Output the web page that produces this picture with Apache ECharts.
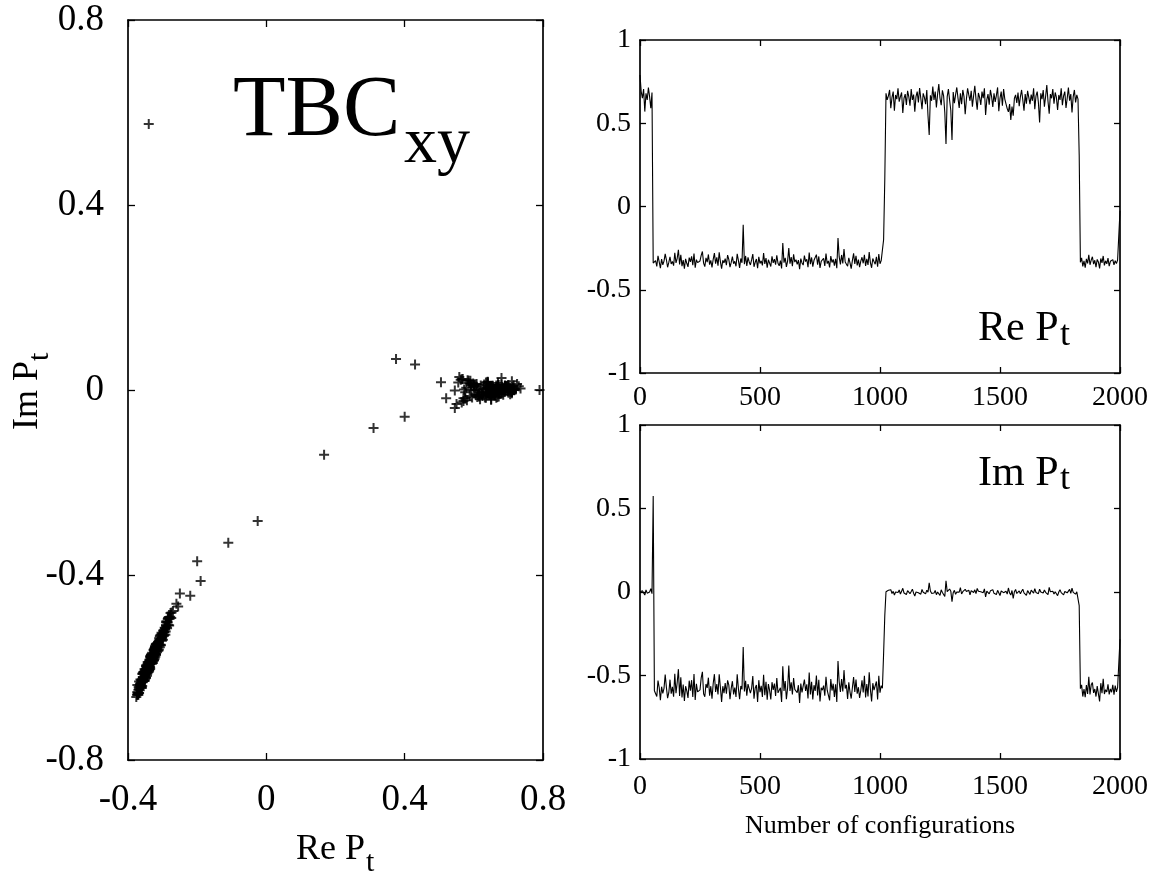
<!DOCTYPE html>
<html>
<head>
<meta charset="utf-8">
<script src="https://cdn.jsdelivr.net/npm/echarts@6/dist/echarts.min.js"></script>
<style>
html,body{margin:0;padding:0;background:#fff;}
#chart{width:1167px;height:874px;}
</style>
</head>
<body>
<div id="chart"></div>
<script>
// ---------------- DATA ----------------
// One sample every 5 configurations (0, 5, 10, ..., 2000)
const configStep = 5;

const reValues = [
  0.790,
  0.690, 0.650, 0.705, 0.570, 0.680, 0.640, 0.715, 0.660, 0.590, 0.685,
  -0.340,
  -0.342, -0.325, -0.360, -0.296, -0.333, -0.370, -0.316, -0.350, -0.328, -0.285,
  -0.320, -0.365, -0.336, -0.303, -0.345, -0.330, -0.355, -0.278, -0.339, -0.311,
  -0.260, -0.348, -0.290, -0.358, -0.322, -0.373, -0.314, -0.341, -0.363, -0.307,
  -0.332, -0.300, -0.352, -0.282, -0.368, -0.319, -0.337, -0.346, -0.327, -0.294,
  -0.270, -0.340, -0.361, -0.309, -0.334, -0.288, -0.349, -0.324, -0.366, -0.317,
  -0.280, -0.343, -0.305, -0.356, -0.275, -0.331, -0.374, -0.323, -0.339, -0.313,
  -0.353, -0.292, -0.318, -0.364, -0.336, -0.301, -0.344, -0.329, -0.359, -0.284,
  -0.324, -0.369, -0.312, -0.338, -0.110, -0.347, -0.297, -0.357, -0.306, -0.333,
  -0.351, -0.321, -0.286, -0.362, -0.335, -0.315, -0.371, -0.302, -0.342, -0.326,
  -0.354, -0.280, -0.345, -0.310, -0.367, -0.320, -0.332, -0.360, -0.299, -0.338,
  -0.316, -0.349, -0.293, -0.341, -0.356, -0.325, -0.372, -0.220, -0.337, -0.308,
  -0.363, -0.328, -0.250, -0.344, -0.304, -0.358, -0.287, -0.334, -0.319, -0.348,
  -0.322, -0.376, -0.313, -0.339, -0.352, -0.295, -0.331, -0.317, -0.365, -0.277,
  -0.346, -0.306, -0.361, -0.323, -0.335, -0.289, -0.350, -0.300, -0.369, -0.330,
  -0.340, -0.311, -0.357, -0.283, -0.343, -0.327, -0.366, -0.298, -0.336, -0.318,
  -0.355, -0.314, -0.370, -0.190, -0.303, -0.348, -0.291, -0.342, -0.255, -0.333,
  -0.321, -0.359, -0.309, -0.338, -0.373, -0.324, -0.281, -0.345, -0.296, -0.354,
  -0.319, -0.364, -0.328, -0.305, -0.341, -0.290, -0.357, -0.315, -0.351, -0.274,
  -0.337, -0.368, -0.312, -0.331, -0.347, -0.302, -0.362, -0.286, -0.344, -0.325,
  -0.328, -0.200,
  0.167,
  0.680, 0.640, 0.665, 0.700, 0.590, 0.655, 0.690, 0.575, 0.670, 0.645,
  0.710, 0.630, 0.660, 0.685, 0.562, 0.650, 0.675, 0.610, 0.695, 0.660,
  0.605, 0.705, 0.640, 0.672, 0.570, 0.660, 0.690, 0.625, 0.712, 0.650,
  0.585, 0.680, 0.655, 0.615, 0.700, 0.545, 0.430, 0.668, 0.635, 0.720,
  0.640, 0.690, 0.595, 0.675, 0.735, 0.650, 0.608, 0.698, 0.665, 0.565,
  0.375, 0.660, 0.705, 0.640, 0.578, 0.400, 0.688, 0.620, 0.672, 0.715,
  0.650, 0.592, 0.680, 0.615, 0.700, 0.660, 0.555, 0.645, 0.710, 0.670,
  0.635, 0.695, 0.600, 0.665, 0.725, 0.645, 0.582, 0.682, 0.655, 0.610,
  0.690, 0.650, 0.710, 0.550, 0.640, 0.675, 0.612, 0.700, 0.660, 0.598,
  0.680, 0.628, 0.668, 0.715, 0.572, 0.650, 0.690, 0.605, 0.705, 0.645,
  0.640, 0.588, 0.568, 0.615, 0.520, 0.600, 0.545, 0.650, 0.670, 0.622,
  0.685, 0.602, 0.660, 0.700, 0.640, 0.575, 0.675, 0.618, 0.695, 0.655,
  0.615, 0.672, 0.635, 0.710, 0.585, 0.665, 0.690, 0.625, 0.505, 0.680,
  0.645, 0.700, 0.600, 0.660, 0.730, 0.632, 0.558, 0.675, 0.650, 0.705,
  0.618, 0.685, 0.655, 0.580, 0.670, 0.640, 0.710, 0.608, 0.665, 0.690,
  0.592, 0.650, 0.715, 0.635, 0.675, 0.565, 0.660, 0.700, 0.625, 0.670,
  0.645,
  0.310,
  -0.335, -0.308, -0.360, -0.327, -0.368, -0.315, -0.342, -0.290, -0.350, -0.322,
  -0.302, -0.346, -0.323, -0.364, -0.318, -0.333, -0.372, -0.312, -0.339, -0.297,
  -0.354, -0.326, -0.344, -0.310, -0.358, -0.329, -0.336, -0.319, -0.351, -0.325,
  -0.343, -0.322, -0.332,
  -0.025
];

const imValues = [
  0.000,
  -0.004, 0.008, 0.001, -0.018, 0.012, -0.007, 0.003, 0.000, 0.020, -0.010,
  0.575,
  -0.591, -0.584, -0.626, -0.530, -0.572, -0.648, -0.567, -0.607, -0.577, -0.495,
  -0.571, -0.636, -0.603, -0.525, -0.609, -0.568, -0.627, -0.490, -0.606, -0.542,
  -0.462, -0.622, -0.510, -0.632, -0.554, -0.653, -0.564, -0.592, -0.634, -0.531,
  -0.591, -0.528, -0.629, -0.491, -0.647, -0.550, -0.598, -0.602, -0.586, -0.514,
  -0.478, -0.609, -0.627, -0.551, -0.574, -0.513, -0.621, -0.564, -0.639, -0.548,
  -0.492, -0.599, -0.552, -0.613, -0.493, -0.570, -0.659, -0.564, -0.606, -0.545,
  -0.609, -0.529, -0.556, -0.642, -0.577, -0.534, -0.613, -0.572, -0.628, -0.493,
  -0.578, -0.642, -0.563, -0.583, -0.330, -0.596, -0.532, -0.621, -0.551, -0.578,
  -0.606, -0.577, -0.503, -0.639, -0.575, -0.557, -0.658, -0.528, -0.600, -0.562,
  -0.628, -0.495, -0.618, -0.537, -0.645, -0.551, -0.589, -0.644, -0.540, -0.586,
  -0.548, -0.623, -0.515, -0.604, -0.610, -0.574, -0.659, -0.445, -0.592, -0.533,
  -0.642, -0.575, -0.440, -0.593, -0.541, -0.614, -0.515, -0.583, -0.573, -0.603,
  -0.558, -0.664, -0.548, -0.601, -0.603, -0.524, -0.592, -0.553, -0.638, -0.482,
  -0.614, -0.538, -0.644, -0.558, -0.592, -0.500, -0.619, -0.526, -0.655, -0.573,
  -0.588, -0.561, -0.621, -0.508, -0.588, -0.577, -0.649, -0.521, -0.590, -0.549,
  -0.629, -0.552, -0.659, -0.413, -0.539, -0.598, -0.522, -0.596, -0.468, -0.578,
  -0.556, -0.640, -0.541, -0.599, -0.638, -0.572, -0.509, -0.599, -0.524, -0.609,
  -0.570, -0.634, -0.590, -0.529, -0.602, -0.502, -0.631, -0.551, -0.626, -0.481,
  -0.583, -0.655, -0.546, -0.588, -0.595, -0.536, -0.643, -0.501, -0.603, -0.561,
  -0.576, -0.370,
  -0.140,
  0.002, -0.005, 0.010, -0.001, 0.014, -0.009, 0.004, -0.018, 0.000, 0.007,
  -0.003, 0.012, -0.012, 0.005, 0.022, -0.006, 0.001, -0.015, 0.008, -0.002,
  -0.010, 0.003, 0.017, -0.007, -0.024, 0.000, 0.009, -0.004, 0.006, -0.013,
  0.015, -0.002, 0.004, -0.011, 0.011, -0.001, 0.055, 0.006, -0.008, 0.001,
  -0.006, 0.009, -0.016, 0.000, 0.003, -0.020, 0.013, -0.003, 0.007, -0.027,
  0.067, 0.002, -0.009, 0.018, 0.005, -0.058, -0.004, 0.010, -0.014, 0.000,
  0.006, -0.001, 0.026, -0.012, 0.002, -0.007, 0.016, 0.003, -0.005, 0.011,
  -0.017, 0.008, 0.000, -0.003, 0.013, -0.010, 0.021, 0.004, -0.006, 0.001,
  0.009, -0.004, 0.019, -0.030, 0.005, 0.000, -0.011, 0.007, -0.002, 0.014,
  -0.008, 0.003, -0.015, 0.010, 0.001, -0.021, 0.006, 0.012, -0.004, 0.000,
  0.005, -0.013, 0.024, -0.006, -0.018, 0.009, -0.039, 0.002, 0.015, -0.009,
  -0.001, 0.007, -0.011, 0.004, 0.017, -0.005, 0.000, -0.020, 0.008, 0.003,
  -0.014, 0.011, 0.001, -0.007, 0.020, -0.003, 0.006, -0.010, 0.017, 0.000,
  0.004, -0.006, 0.012, -0.002, 0.008, -0.016, 0.028, 0.001, -0.009, 0.005,
  -0.012, 0.002, 0.009, -0.022, 0.000, 0.014, -0.004, 0.007, -0.017, 0.003,
  0.010, -0.005, 0.000, 0.016, -0.008, 0.023, -0.002, 0.005, -0.013, 0.001,
  -0.007,
  -0.082,
  -0.579, -0.556, -0.626, -0.581, -0.630, -0.557, -0.610, -0.508, -0.613, -0.556,
  -0.542, -0.604, -0.581, -0.626, -0.564, -0.573, -0.655, -0.546, -0.606, -0.519,
  -0.611, -0.585, -0.599, -0.553, -0.613, -0.580, -0.600, -0.556, -0.615, -0.561,
  -0.598, -0.572, -0.581,
  -0.283
];

// Axis ticks
const scatterReTicks = [-0.4, 0, 0.4, 0.8];
const scatterImTicks = [-0.8, -0.4, 0, 0.4, 0.8];
const configTicks = [0, 500, 1000, 1500, 2000];
const polyakovTicks = [-1, -0.5, 0, 0.5, 1];

// Texts
const panelTitle = ['TBC', 'xy'];
const reLabel = ['Re P', 't'];
const imLabel = ['Im P', 't'];
const configLabel = 'Number of configurations';

// ---------------- CHART ----------------
const FONT = "'Liberation Serif', 'Times New Roman', Times, serif";
const chart = echarts.init(document.getElementById('chart'), null, {renderer: 'canvas'});

function axis(gridIndex, ticks, position, showLabel, fontSize, margin, tickLen) {
  return {
    type: 'value',
    gridIndex: gridIndex,
    position: position,
    min: ticks[0],
    max: ticks[ticks.length - 1],
    interval: ticks[1] - ticks[0],
    axisLine: {show: true, onZero: false, lineStyle: {color: '#000', width: 1.7}},
    axisTick: {show: true, inside: true, length: tickLen, lineStyle: {color: '#000', width: 1.3}},
    axisLabel: {show: showLabel, color: '#000', fontFamily: FONT, fontSize: fontSize, margin: margin,
                showMinLabel: true, showMaxLabel: true,
                formatter: function (v) { return String(v); }},
    splitLine: {show: false},
    minorTick: {show: false}
  };
}

const samples = reValues.map(function (r, i) { return i * configStep; });
const scatterData = reValues.map(function (r, i) { return [r, imValues[i]]; });
const reSeries = reValues.map(function (r, i) { return [samples[i], r]; });
const imSeries = imValues.map(function (v, i) { return [samples[i], v]; });

const PLUS = 'path://M4,0h2v4h4v2h-4v4h-2v-4h-4v-2h4z';

function txt(x, baseline, text, size, extra) {
  const o = {
    type: 'text', x: x, y: baseline - 0.34 * size, silent: true,
    style: {text: text, fontFamily: FONT, fontSize: size, fill: '#000', align: 'left', verticalAlign: 'middle'}
  };
  if (extra) Object.assign(o, extra);
  return o;
}

const option = {
  animation: false,
  backgroundColor: '#fff',
  grid: [
    {left: 128, top: 20, width: 415, height: 740},
    {left: 640, top: 40, width: 480, height: 333},
    {left: 640, top: 425, width: 480, height: 334}
  ],
  xAxis: [
    axis(0, scatterReTicks, 'bottom', true, 37, 22, 7),
    axis(0, scatterReTicks, 'top', false, 37, 8, 7),
    axis(1, configTicks, 'bottom', true, 28, 11, 6),
    axis(1, configTicks, 'top', false, 28, 8, 6),
    axis(2, configTicks, 'bottom', true, 28, 14, 6),
    axis(2, configTicks, 'top', false, 28, 8, 6)
  ],
  yAxis: [
    axis(0, scatterImTicks, 'left', true, 37, 24, 7),
    axis(0, scatterImTicks, 'right', false, 37, 8, 7),
    axis(1, polyakovTicks, 'left', true, 28, 9, 6),
    axis(1, polyakovTicks, 'right', false, 28, 8, 6),
    axis(2, polyakovTicks, 'left', true, 28, 9, 6),
    axis(2, polyakovTicks, 'right', false, 28, 8, 6)
  ],
  series: [
    {
      type: 'scatter', xAxisIndex: 0, yAxisIndex: 0, data: scatterData,
      symbol: PLUS, symbolSize: 10, itemStyle: {color: '#000'}, silent: true
    },
    {
      type: 'line', xAxisIndex: 2, yAxisIndex: 2, data: reSeries,
      symbol: 'none', showSymbol: false, lineStyle: {color: '#000', width: 1.1}, silent: true
    },
    {
      type: 'line', xAxisIndex: 4, yAxisIndex: 4, data: imSeries,
      symbol: 'none', showSymbol: false, lineStyle: {color: '#000', width: 1.1}, silent: true
    }
  ],
  graphic: [
    txt(233, 142, panelTitle[0], 86),
    txt(404, 167, panelTitle[1], 66),
    txt(296, 862, reLabel[0], 36),
    txt(366, 873, reLabel[1], 30),
    txt(0, 0, imLabel[0], 36, {rotation: Math.PI / 2, x: 40 - 0.34 * 36, y: 430}),
    txt(0, 0, imLabel[1], 30, {rotation: Math.PI / 2, x: 50 - 0.34 * 30, y: 361}),
    txt(978, 343, reLabel[0], 42),
    txt(1060, 348, reLabel[1], 36),
    txt(978, 488, imLabel[0], 42),
    txt(1060, 492, imLabel[1], 36),
    {
      type: 'text', x: 880, y: 835 - 0.34 * 26, silent: true,
      style: {text: configLabel, fontFamily: FONT, fontSize: 26, fill: '#000', align: 'center', verticalAlign: 'middle'}
    }
  ]
};

chart.setOption(option);
</script>
</body>
</html>
